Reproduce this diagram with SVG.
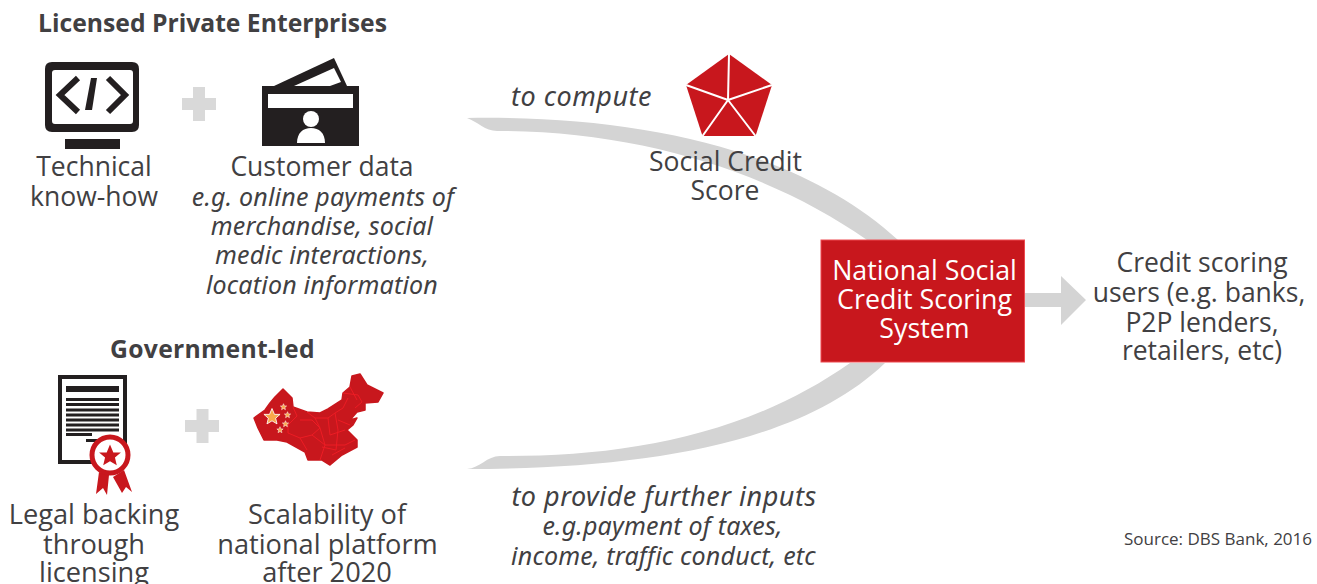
<svg xmlns="http://www.w3.org/2000/svg" width="1317" height="584" viewBox="0 0 1317 584">
<style>
text{font-family:"Open Sans","Noto Sans","Liberation Sans",sans-serif;fill:#414042;text-anchor:middle}
.m{font-size:26.500px}
.l{font-size:27.200px}
.n{font-size:26.800px;fill:#fff}
.b{font-size:24.700px;font-weight:700}
.i{font-family:"Noto Sans","Open Sans",sans-serif;font-size:25px;font-style:italic;letter-spacing:.2px}
.h{font-family:"Noto Sans","Open Sans",sans-serif;font-size:27px;font-style:italic;letter-spacing:.5px}
.k{fill:#231f20}
.w{fill:#fff}
.r{fill:#c8171d}
.g{fill:#d4d4d4}
.p{fill:#d9d9d9}
.prov{fill:none;stroke:#ed1c24;stroke-width:1}
</style>
<defs><path id="star" d="M0 -10L2.900 -3.100L9.500 -3.100L4.300 1.400L5.900 8.100L0 4.500L-5.900 8.100L-4.300 1.400L-9.500 -3.100L-2.900 -3.100Z"/></defs>
<rect width="1317" height="584" fill="#fff"/>
<g id="connectors">
<path class="g" d="M467 118C640 115 800 150 898 240L867 240C770 172 640 131 497 131C485 131 478 122 467 118Z"/>
<path class="g" d="M467 469C480 468 487 456 500 456C620 457 745 437 850 363L885 363C800 445 640 469 467 469Z"/>
<path class="g" d="M1024 293H1061V276L1086 300L1061 325V307H1024Z"/>
</g>
<g id="heading-private"><text class="b" x="212.500" y="32">Licensed Private Enterprises</text></g>
<g id="technical">
<path class="k" fill-rule="evenodd" d="M52 62H132Q139 62 139 69V125Q139 132 132 132H52Q45 132 45 125V69Q45 62 52 62ZM55 70Q52 70 52 73V121Q52 124 55 124H130Q133 124 133 121V73Q133 70 130 70Z"/>
<rect class="k" x="65" y="139" width="55" height="10"/>
<path d="M78 78L60 95L78 112M108 78L125 95L108 112" fill="none" stroke="#231f20" stroke-width="6"/>
<path class="k" d="M91 78H97L92 110H85Z"/>
<text class="m" x="94" y="176">Technical</text>
<text class="m" x="94" y="206">know-how</text>
</g>
<g id="plus-1"><path class="p" d="M193 87H205V98H216V110H205V121H193V110H182V98H193Z"/></g>
<g id="customer">
<path class="k" d="M274 86L334 58L347 86Z"/>
<path class="w" d="M294 86L334 68L341 82L330 86Z"/>
<rect class="k" x="262" y="86" width="97" height="60"/>
<rect class="w" x="268" y="94" width="85" height="14"/>
<circle class="w" cx="311" cy="119" r="8"/>
<path class="w" d="M297 143C297 133 303 128 311 128C319 128 325 133 325 143Z"/>
<text class="m" x="322" y="176">Customer data</text>
<text class="i" x="323" y="206">e.g. online payments of</text>
<text class="i" x="322" y="235">merchandise, social</text>
<text class="i" x="322" y="264">medic interactions,</text>
<text class="i" x="322" y="294">location information</text>
</g>
<g id="heading-gov"><text class="b" x="212.500" y="358" style="letter-spacing:.3px">Government-led</text></g>
<g id="legal">
<rect x="60" y="377" width="65" height="85" fill="#fff" stroke="#231f20" stroke-width="4"/>
<g class="k"><rect x="66" y="386" width="53" height="6"/><rect x="66" y="398" width="53" height="3"/><rect x="66" y="403" width="53" height="3"/><rect x="66" y="408.500" width="53" height="3"/><rect x="66" y="413.500" width="53" height="3"/><rect x="66" y="418.500" width="53" height="3"/><rect x="66" y="423.500" width="53" height="3"/><rect x="66" y="428.500" width="53" height="3"/><rect x="66" y="433" width="26" height="3"/><rect x="86" y="439" width="33" height="3"/></g>
<path class="r" d="M99 472L96 494L103 488L107 495L109 475ZM113 477L122 493L126 487L132 492L124 470Z"/>
<circle cx="110" cy="455" r="18" fill="#fff" stroke="#c8171d" stroke-width="5"/>
<use href="#star" class="r" transform="translate(110 456) scale(1.150)"/>
<text class="l" x="94" y="524">Legal backing</text>
<text class="l" x="94" y="554">through</text>
<text class="l" x="94" y="582">licensing</text>
</g>
<g id="plus-2"><path class="p" d="M196.500 409H208.500V420H219V432H208.500V443H196.500V432H185V420H196.500Z"/></g>
<g id="scalability">
<path class="r" stroke="#c8171d" stroke-width="1.500" stroke-linejoin="round" d="M254 418L265 410L270 403L275 397L283 389L292 398L293 407L307 412L320 413L328 409L342 400L343 393L350 387L352 376L360 374L367 385L383 393L378 402L365 403L365 410L357 412L350 420L357 418L353 425L347 430L357 440L357 447L342 455L330 465L322 460L315 460L308 460L305 452L287 442L277 440L264 440L258 428Z"/>
<path class="prov" d="M293 407L297 416L288 425L288 433L300 438L312 435L320 428L312 420L300 420M300 438L307 450M307 412L315 418L328 418L335 413L343 408L348 398M343 393L358 395L362 402L355 408M350 387L357 400M315 418L320 428L325 445L320 460M328 418L330 435L345 430M335 413L338 430L336 450L322 447M312 435L325 445L345 445L355 440M338 420L350 425M332 455L345 448"/>
<use href="#star" transform="translate(272 417) scale(.85)" fill="#f9a94b" stroke="#fff" stroke-width="1"/>
<g fill="#f9a94b" stroke="#fff" stroke-width="1.500"><use href="#star" transform="translate(283.500 407) scale(.33)"/><use href="#star" transform="translate(287.500 415) scale(.33)"/><use href="#star" transform="translate(285.500 424) scale(.33)"/><use href="#star" transform="translate(280 430) scale(.33)"/></g>
<text class="l" x="327" y="524">Scalability of</text>
<text class="l" x="327.500" y="554">national platform</text>
<text class="l" x="327" y="582">after 2020</text>
</g>
<g id="compute"><text class="h" x="581.500" y="106">to compute</text></g>
<g id="score">
<path class="r" d="M729 54L772 85L755.500 136H702.500L686 85Z"/>
<path d="M728 100L729 54M728 100L772 85M728 100L755.500 136M728 100L702.500 136M728 100L686 85" stroke="#fff" stroke-width="2" fill="none"/>
<text class="m" x="725.500" y="171">Social Credit</text>
<text class="m" x="725" y="200">Score</text>
</g>
<g id="system">
<rect x="821" y="240" width="203.500" height="122" fill="#c8171d" stroke="#ee4a50" stroke-width="1"/>
<text class="n" x="924.500" y="280">National Social</text>
<text class="n" x="924.500" y="309">Credit Scoring</text>
<text class="n" x="924.500" y="338">System</text>
</g>
<g id="users">
<text class="m" x="1202" y="272">Credit scoring</text>
<text class="m" x="1199" y="302">users (e.g. banks,</text>
<text class="m" x="1202" y="332">P2P lenders,</text>
<text class="m" x="1202" y="360">retailers, etc)</text>
</g>
<g id="inputs">
<text class="h" x="664" y="506">to provide further inputs</text>
<text class="i" x="662.500" y="535">e.g.payment of taxes,</text>
<text class="i" x="663.500" y="565">income, traffic conduct, etc</text>
</g>
<g id="source"><text x="1218" y="545" style="font-size:17px">Source: DBS Bank, 2016</text></g>
</svg>
